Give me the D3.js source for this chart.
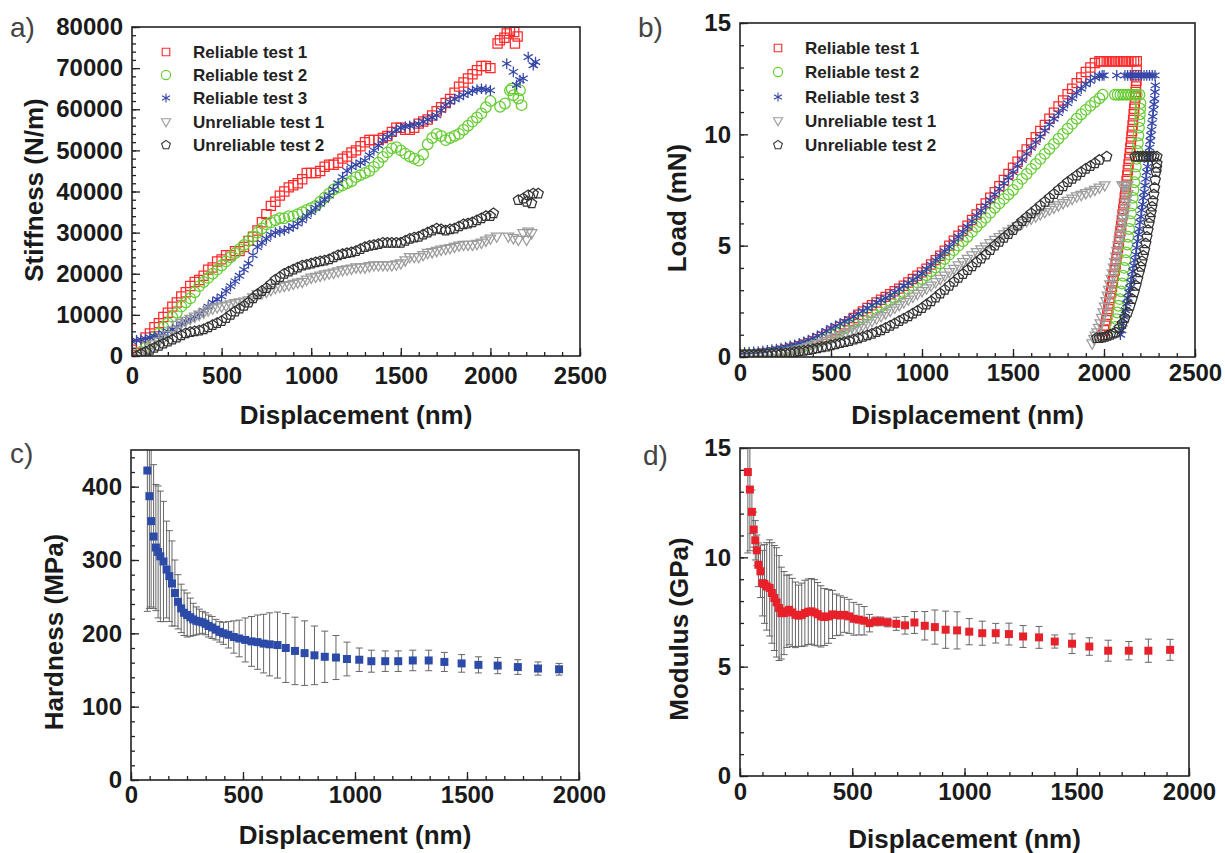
<!DOCTYPE html>
<html>
<head>
<meta charset="utf-8">
<title>Nanoindentation</title>
<script src="https://cdn.jsdelivr.net/npm/d3@7"></script>
<style>
  body { margin: 0; background: #fff; }
  svg text { font-family: Arial, "Liberation Sans", sans-serif; }
</style>
</head>
<body>
<div id="container"></div>
<script>
// grille de déplacement (nm) des bandes de mesure, pas de 25 nm
const dispGrid = [0,25,50,75,100,125,150,175,200,225,
  250,275,300,325,350,375,400,425,450,475,
  500,525,550,575,600,625,650,675,700,725,
  750,775,800,825,850,875,900,925,950,975,
  1000,1025,1050,1075,1100,1125,1150,1175,1200,1225,
  1250,1275,1300,1325,1350,1375,1400,1425,1450,1475,
  1500,1525,1550,1575,1600,1625,1650,1675,1700,1725,
  1750,1775,1800,1825,1850,1875,1900,1925,1950,1975,2000];

// ---- a) raideur (N/m) sur dispGrid
const stiffRel1 = [1500,2500,3000,4500,5500,7000,8000,9500,10500,12000,
  13000,14500,15500,17000,18000,18500,19500,21000,21500,23000,
  23500,24500,24500,25500,25500,26500,28000,29000,30500,32500,
  34500,36500,37500,39000,40000,41000,41500,42000,43000,44500,
  44500,44500,45000,46000,46500,46500,47000,48000,48500,49500,
  50000,51000,52000,52500,52500,52500,53000,53500,54500,55500,
  55500,55000,55000,55500,56500,57000,57500,58500,59500,60500,
  61500,62500,64000,65500,66500,67500,68500,69500,70500,70500,70000];
const stiffRel2 = [null,null,1000,2000,3000,4000,5500,7000,8000,9500,
  10500,12000,13000,14000,15500,17000,18000,19000,20000,21000,
  22000,23000,24000,25000,26000,27000,28000,29000,30000,31000,
  32000,32500,33000,33500,33500,34000,34000,34500,35000,35500,
  36000,36500,37500,38500,39500,40500,41000,41500,42000,42500,
  43500,44000,44500,45000,46000,47000,48400,49500,50500,50800,
  50000,49200,48500,48000,47500,49000,51500,53000,54000,53500,
  52500,53000,53500,54000,55000,56000,57000,58000,59000,60500,62000];
const stiffRel3 = [3500,3800,4000,4200,4500,4800,5000,5500,6000,6500,
  7000,7800,8500,9000,9500,10200,11000,12000,13000,13800,
  14500,15800,17000,18200,19500,21000,22500,24500,26500,27500,
  28500,29500,30000,30300,30500,31000,31500,32200,33000,34000,
  35000,36000,37000,38000,39000,40500,42000,43500,45000,46000,
  46500,47000,47500,48800,50000,51200,52500,53300,54000,55000,
  55500,55800,56000,56200,56500,57000,57500,58000,58500,59800,
  61000,61800,62500,63000,63500,64000,64500,64800,65000,64800,64600];
const stiffUnrel1 = [null,0,500,1200,2000,2800,3500,4200,5000,6200,
  7500,8000,8500,9000,9500,10000,10500,11000,11500,11800,
  12000,12200,12500,12800,13000,13200,13500,14200,15000,15200,
  15500,16000,16500,16800,17000,17200,17500,17800,18000,18500,
  19000,19200,19500,19800,20000,20200,20500,20800,21000,21200,
  21500,21500,21500,21800,22000,22000,22000,22000,22000,22200,
  22500,23200,24000,24000,24000,24500,25000,25200,25500,25800,
  26000,26200,26500,26800,27000,27000,27000,27200,27500,28000,28500];
const stiffUnrel2 = [null,0,500,1000,1500,2000,2500,3000,3500,4000,
  4500,5000,5500,5800,6000,6200,6500,7000,7500,8000,
  8500,9200,10000,10800,11500,12200,13000,14000,15000,15800,
  16500,17500,18500,19200,20000,20500,21000,21500,22000,22200,
  22500,22800,23000,23200,23500,24000,24500,24800,25000,25200,
  25500,26000,26500,26800,27000,27200,27500,27500,27500,27500,
  27500,28000,28500,28800,29000,29500,30000,30500,31000,30800,
  30500,30800,31000,31500,32000,32200,32500,33000,33500,34000,34000];
// points isolés au-delà de 2000 nm, [nm, N/m]
const stiffTail1 = [[2040,76000],[2053,76800],[2078,77400],[2091,78400],[2109,79100],[2133,78800],[2152,77700],[2137,76000]];
const stiffTail2 = [[2054,60600],[2081,61400],[2109,64600],[2128,63400],[2156,62600],[2174,61000],[2165,64600],[2118,65000]];
const stiffTail3 = [[2091,71100],[2128,69100],[2165,67100],[2146,65900],[2183,67500],[2211,72700],[2239,70700],[2252,71500]];
const stiffTail4 = [[2035,29000],[2100,29000],[2128,28600],[2156,28200],[2183,29800],[2211,30200],[2230,29800],[2202,28200]];
const stiffTail5 = [[2017,34700],[2156,37900],[2183,38300],[2211,39100],[2239,39500],[2267,39500],[2230,37100],[2202,37500]];

// ---- b) charge (mN), chargement sur dispGrid (0..1975)
const loadRel1 = [0.10,0.10,0.11,0.12,0.14,0.16,0.18,0.21,0.24,0.28,
  0.32,0.37,0.42,0.48,0.55,0.62,0.70,0.80,0.90,1.0,
  1.1,1.22,1.35,1.47,1.6,1.75,1.9,2.05,2.2,2.32,
  2.45,2.57,2.7,2.82,2.95,3.07,3.2,3.35,3.5,3.65,
  3.8,3.97,4.15,4.35,4.55,4.77,5.0,5.22,5.45,5.67,
  5.9,6.15,6.4,6.65,6.9,7.15,7.4,7.67,7.95,8.22,
  8.5,8.77,9.05,9.32,9.6,9.87,10.15,10.42,10.7,10.97,
  11.25,11.52,11.8,12.05,12.3,12.55,12.8,13.0,13.2,13.28];
const loadRel2 = [0.08,0.09,0.1,0.11,0.12,0.14,0.16,0.18,0.21,0.24,
  0.28,0.32,0.37,0.42,0.48,0.55,0.62,0.7,0.78,0.87,
  0.97,1.07,1.18,1.29,1.4,1.52,1.65,1.77,1.9,2.02,
  2.15,2.27,2.4,2.52,2.65,2.77,2.9,3.05,3.2,3.35,
  3.5,3.67,3.85,4.02,4.2,4.4,4.6,4.8,5.0,5.2,
  5.4,5.62,5.85,6.05,6.25,6.47,6.7,6.9,7.1,7.3,
  7.5,7.75,8.0,8.22,8.45,8.67,8.9,9.12,9.35,9.57,
  9.8,10.02,10.25,10.47,10.7,10.9,11.1,11.28,11.45,11.62];
const loadRel3 = [0.2,0.21,0.22,0.23,0.25,0.27,0.3,0.33,0.36,0.4,
  0.45,0.5,0.55,0.61,0.68,0.76,0.85,0.95,1.05,1.17,
  1.3,1.4,1.5,1.6,1.7,1.82,1.95,2.07,2.2,2.32,
  2.45,2.55,2.65,2.77,2.9,3.05,3.2,3.32,3.45,3.6,
  3.75,3.95,4.15,4.35,4.55,4.75,4.95,5.17,5.4,5.62,
  5.85,6.1,6.35,6.57,6.8,7.05,7.3,7.55,7.8,8.05,
  8.3,8.57,8.85,9.12,9.4,9.65,9.9,10.17,10.45,10.7,
  10.95,11.17,11.4,11.62,11.85,12.05,12.25,12.4,12.55,12.62];
const loadUnrel1 = [0.05,0.05,0.06,0.07,0.08,0.09,0.1,0.12,0.14,0.17,
  0.2,0.24,0.28,0.33,0.38,0.44,0.5,0.57,0.64,0.72,
  0.8,0.87,0.95,1.02,1.1,1.2,1.3,1.4,1.5,1.61,
  1.72,1.83,1.95,2.07,2.2,2.32,2.45,2.57,2.7,2.82,
  2.95,3.07,3.2,3.35,3.5,3.65,3.8,3.95,4.1,4.25,
  4.4,4.55,4.7,4.82,4.95,5.1,5.25,5.37,5.5,5.62,
  5.75,5.87,6.0,6.1,6.2,6.3,6.4,6.5,6.6,6.7,
  6.8,6.9,7.0,7.1,7.2,7.27,7.35,7.42,7.5,7.6];
const loadUnrel2 = [0.1,0.1,0.1,0.1,0.11,0.11,0.12,0.13,0.14,0.15,
  0.17,0.19,0.22,0.25,0.28,0.31,0.35,0.39,0.43,0.47,
  0.52,0.57,0.62,0.67,0.72,0.78,0.84,0.9,0.97,1.04,
  1.12,1.2,1.3,1.4,1.5,1.61,1.72,1.83,1.95,2.07,
  2.2,2.35,2.5,2.67,2.85,3.02,3.2,3.37,3.55,3.72,
  3.9,4.07,4.25,4.42,4.6,4.8,5.0,5.17,5.35,5.52,
  5.7,5.9,6.1,6.27,6.45,6.62,6.8,6.97,7.15,7.32,
  7.5,7.67,7.85,8.0,8.15,8.3,8.45,8.57,8.7,8.85];
// maintien puis décharge, [nm, mN]
const unload1 = [[1985,13.28],[2000,13.28],[2015,13.28],[2030,13.28],[2045,13.28],[2060,13.28],[2075,13.28],[2090,13.28],[2105,13.28],[2120,13.28],[2135,13.28],[2150,13.28],[2165,13.28],[2180,13.28],
  [2180,12.9],[2179,12.65],[2178,12.4],[2176,12.15],[2174,11.9],[2172,11.65],[2169,11.4],[2166,11.15],[2163,10.9],[2160,10.65],[2157,10.4],[2154,10.15],[2151,9.9],[2148,9.65],[2145,9.4],[2142,9.15],[2138,8.9],[2135,8.65],[2131,8.4],[2128,8.15],[2124,7.9],[2121,7.65],[2117,7.4],[2114,7.15],[2110,6.9],[2106,6.65],[2102,6.4],[2098,6.15],[2094,5.9],[2090,5.65],[2086,5.4],[2082,5.15],[2077,4.9],[2073,4.65],[2068,4.4],[2064,4.15],[2059,3.9],[2054,3.65],[2049,3.4],[2044,3.15],[2039,2.9],[2034,2.65],[2029,2.4],[2024,2.15],[2018,1.9],[2012,1.65],[2006,1.4],[2000,1.2],[1994,1.0]];
const unload2 = [[1993,11.78],[2060,11.78],[2075,11.78],[2090,11.78],[2105,11.78],[2120,11.78],[2135,11.78],[2150,11.78],[2165,11.78],[2180,11.78],[2195,11.78],
  [2200,11.4],[2199,11.15],[2197,10.9],[2195,10.6],[2192,10.3],[2189,9.95],[2186,9.6],[2183,9.25],[2179,8.9],[2175,8.55],[2171,8.2],[2167,7.85],[2162,7.5],[2158,7.15],[2153,6.8],[2148,6.45],[2143,6.1],[2138,5.75],[2133,5.4],[2128,5.05],[2122,4.7],[2117,4.35],[2111,4.0],[2105,3.65],[2099,3.3],[2093,2.95],[2086,2.6],[2080,2.3],[2073,2.0],[2067,1.7],[2060,1.35]];
const unload3 = [[1990,12.65],[2000,12.65],[2070,12.65],[2115,12.65],[2130,12.65],[2145,12.65],[2160,12.65],[2175,12.65],[2190,12.65],[2205,12.65],[2220,12.65],[2235,12.65],[2250,12.65],[2265,12.65],[2280,12.65],
  [2282,12.2],[2280,11.9],[2278,11.6],[2275,11.35],[2271,11.1],[2268,10.8],[2264,10.5],[2261,10.2],[2257,9.95],[2254,9.7],[2250,9.4],[2247,9.1],[2243,8.85],[2239,8.55],[2234,8.3],[2230,8.0],[2225,7.7],[2221,7.4],[2216,7.15],[2212,6.85],[2207,6.6],[2203,6.3],[2198,6.05],[2194,5.75],[2189,5.5],[2184,5.2],[2179,4.9],[2175,4.6],[2170,4.35],[2164,4.1],[2158,3.85],[2153,3.6],[2147,3.35],[2142,3.1],[2136,2.9],[2131,2.65],[2125,2.4],[2118,2.1],[2111,1.8],[2104,1.5],[2097,1.2],[2090,1.0]];
const unload4 = [[2004,7.7],[2100,7.7],[2110,7.7],[2120,7.7],[2130,7.7],
  [2130,7.3],[2125,7.1],[2120,6.9],[2115,6.65],[2110,6.4],[2105,6.2],[2100,6.0],[2095,5.75],[2090,5.5],[2084,5.25],[2078,5.0],[2072,4.75],[2066,4.5],[2060,4.25],[2054,4.0],[2047,3.75],[2040,3.5],[2033,3.25],[2026,3.0],[2019,2.75],[2012,2.5],[2004,2.25],[1996,2.0],[1988,1.75],[1980,1.5],[1971,1.3],[1962,1.1],[1953,0.95],[1945,0.8],[1935,0.6]];
const unload5 = [[2015,9.0],[2170,9.0],[2185,9.0],[2200,9.0],[2215,9.0],[2230,9.0],[2245,9.0],[2260,9.0],[2275,9.0],[2291,9.0],
  [2291,8.7],[2289,8.5],[2286,8.3],[2282,7.95],[2278,7.6],[2274,7.3],[2269,7.0],[2264,6.75],[2259,6.5],[2254,6.25],[2248,6.0],[2242,5.7],[2236,5.4],[2230,5.1],[2223,4.8],[2216,4.55],[2209,4.3],[2202,4.05],[2194,3.8],[2185,3.5],[2176,3.2],[2166,2.9],[2155,2.6],[2143,2.3],[2130,2.0],[2115,1.75],[2100,1.5],[2083,1.3],[2065,1.1],[2050,1.05],[2035,1.0],[2020,0.95],[2005,0.9],[1990,0.87],[1975,0.85],[1960,0.85]];

// ---- c) dureté (MPa) avec barres d'erreur
const hardDisp = [73,82,90,101,111,121,131,145,159,171,183,196,210,224,237,251,265,278,292,305,319,333,346,362,379,396,413,435,459,483,510,538,565,592,619,654,691,732,775,819,865,915,964,1019,1073,1135,1193,1258,1329,1399,1476,1551,1637,1727,1817,1911];
const hardVal  = [422,387,353,332,317,311,305,298,287,278,268,255,243,234,228,225,222,219,217,216,215,213,210,208,205,202,200,198,195,193,191,189,188,186,185,184,180,176,173,170,168,167,165,164,162,162,162,163,163,161,159,157,156,154,152,151];
const hardErr  = [192,153,117,98,86,90,89,82,66,62,58,45,37,33,31,30,26,22,19,17,15,15,15,15,14,14,15,18,22,25,30,34,37,40,43,45,47,46,44,40,35,30,23,16,15,14,14,14,14,13,12,11,11,10,9,8];

// ---- d) module (GPa) avec barres d'erreur
const modDisp = [35,44,53,61,68,75,82,91,100,109,119,132,142,153,163,174,184,196,209,219,233,247,261,275,289,304,318,332,346,360,377,395,412,430,447,465,486,507,530,553,577,602,626,658,696,735,777,823,868,916,967,1021,1079,1139,1198,1261,1332,1402,1479,1556,1640,1732,1819,1916];
const modVal  = [13.9,13.1,12.08,11.27,10.78,10.32,9.66,9.36,8.82,8.78,8.67,8.6,8.37,8.14,7.94,7.68,7.45,7.45,7.53,7.6,7.48,7.37,7.33,7.37,7.45,7.51,7.53,7.48,7.4,7.3,7.27,7.3,7.39,7.37,7.34,7.37,7.3,7.19,7.15,7.1,6.99,7.07,7.07,7.02,6.96,6.89,7.02,6.87,6.81,6.69,6.66,6.6,6.53,6.53,6.49,6.38,6.34,6.15,6.05,5.92,5.73,5.73,5.73,5.77];
const modErr  = [3.7,2.8,1.0,0.8,0.9,0.7,1.0,1.2,1.5,1.8,2.0,2.2,2.3,2.4,2.5,2.4,2.1,1.9,1.65,1.6,1.56,1.5,1.4,1.45,1.5,1.5,1.5,1.5,1.45,1.4,1.3,1.23,1.1,0.95,0.9,0.8,0.78,0.75,0.7,0.65,0.4,0.2,0.2,0.2,0.3,0.4,0.5,0.65,0.78,0.85,0.85,0.6,0.55,0.45,0.5,0.5,0.5,0.3,0.45,0.4,0.48,0.42,0.53,0.48];

const seriesNames = ["Reliable test 1", "Reliable test 2", "Reliable test 3", "Unreliable test 1", "Unreliable test 2"];
const seriesShapes = ["square", "circle", "star", "triangle", "pentagon"];
const seriesColors = ["#ff2b2b", "#66cc33", "#3446a8", "#9c9c9c", "#333333"];

// associe la grille et les valeurs, puis ajoute les points libres
function onGrid(vals, extra) {
  const pts = [];
  vals.forEach((v, i) => { if (v !== null) pts.push([dispGrid[i], v]); });
  return pts.concat(extra);
}

const svg = d3.select("#container").append("svg")
  .attr("width", 1225).attr("height", 853);

// chemin d'un symbole centré en 0,0
function shapePath(type, r) {
  if (type === "square") return `M${-r},${-r}h${2*r}v${2*r}h${-2*r}Z`;
  if (type === "circle") return `M${-r},0a${r},${r} 0 1,0 ${2*r},0a${r},${r} 0 1,0 ${-2*r},0Z`;
  if (type === "star") {
    let d = "";
    [90, 30, -30].forEach(a => {
      const c = Math.cos(a * Math.PI / 180) * r, s = Math.sin(a * Math.PI / 180) * r;
      d += `M${-c},${-s}L${c},${s}`;
    });
    return d;
  }
  if (type === "triangle") return `M${-r},${-r*0.7}L${r},${-r*0.7}L0,${r*1.05}Z`;
  if (type === "pentagon") {
    const pts = d3.range(5).map(k => {
      const a = (-90 + 72 * k) * Math.PI / 180;
      return [Math.cos(a) * r, Math.sin(a) * r];
    });
    return "M" + pts.map(p => p.join(",")).join("L") + "Z";
  }
}

function panel(cfg) {
  const x = d3.scaleLinear().domain(cfg.xDom).range([cfg.l, cfg.r]);
  const y = d3.scaleLinear().domain(cfg.yDom).range([cfg.b, cfg.t]);

  const styleAxis = g => {
    g.select(".domain").remove();
    g.selectAll("line").attr("stroke", "#222").attr("stroke-width", 1.3);
    g.selectAll("text").attr("font-size", 24).attr("font-weight", "bold")
      .attr("fill", "#1a1a1a").attr("font-family", "Arial, 'Liberation Sans', sans-serif");
  };

  // graduations secondaires puis principales, vers l'intérieur
  svg.append("g").attr("transform", `translate(0,${cfg.b})`)
    .call(d3.axisBottom(x).tickValues(cfg.xMinor).tickSize(-4).tickFormat(""))
    .call(styleAxis);
  svg.append("g").attr("transform", `translate(0,${cfg.b})`)
    .call(d3.axisBottom(x).tickValues(cfg.xMajor).tickSize(-8).tickPadding(cfg.xPad).tickFormat(d3.format("d")))
    .call(styleAxis);
  svg.append("g").attr("transform", `translate(${cfg.l},0)`)
    .call(d3.axisLeft(y).tickValues(cfg.yMinor).tickSize(-4).tickFormat(""))
    .call(styleAxis);
  svg.append("g").attr("transform", `translate(${cfg.l},0)`)
    .call(d3.axisLeft(y).tickValues(cfg.yMajor).tickSize(-8).tickPadding(9).tickFormat(d3.format("d")))
    .call(styleAxis);

  svg.append("clipPath").attr("id", cfg.id + "clip")
    .append("rect")
    .attr("x", cfg.l).attr("y", cfg.t)
    .attr("width", cfg.r - cfg.l).attr("height", cfg.b - cfg.t);

  // titres
  svg.append("text")
    .attr("x", (cfg.l + cfg.r) / 2).attr("y", cfg.xTitleY)
    .attr("text-anchor", "middle").attr("font-size", 26).attr("font-weight", "bold").attr("fill", "#1a1a1a")
    .text("Displacement (nm)");
  svg.append("text")
    .attr("transform", `translate(${cfg.yTitleX},${cfg.yTitleMid}) rotate(-90)`)
    .attr("text-anchor", "middle").attr("font-size", 26).attr("font-weight", "bold").attr("fill", "#1a1a1a")
    .text(cfg.yTitle);
  svg.append("text")
    .attr("x", cfg.tagX).attr("y", cfg.tagY)
    .attr("font-size", 28).attr("fill", "#444")
    .text(cfg.tag);

  const plot = svg.append("g").attr("clip-path", `url(#${cfg.id}clip)`);

  // cadre par-dessus les données
  const frame = () => svg.append("rect")
    .attr("x", cfg.l).attr("y", cfg.t)
    .attr("width", cfg.r - cfg.l).attr("height", cfg.b - cfg.t)
    .attr("fill", "none").attr("stroke", "#222").attr("stroke-width", 1.6);
  return { x, y, plot, frame };
}

function drawSeries(p, sets, legendX, legendY) {
  sets.forEach((pts, i) => {
    p.plot.append("g").selectAll("path")
      .data(pts)
      .join("path")
      .attr("transform", d => `translate(${p.x(d[0])},${p.y(d[1])})`)
      .attr("d", shapePath(seriesShapes[i], seriesShapes[i] === "square" ? 4.6 : 5.3))
      .attr("fill", "none")
      .attr("stroke", seriesColors[i])
      .attr("stroke-width", 1.25);
  });
  p.frame();
  // légende
  const lg = svg.append("g");
  seriesNames.forEach((name, i) => {
    const yy = legendY[i];
    lg.append("path")
      .attr("transform", `translate(${legendX},${yy})`)
      .attr("d", shapePath(seriesShapes[i], seriesShapes[i] === "square" ? 3.8 : 4.6))
      .attr("fill", "none").attr("stroke", seriesColors[i]).attr("stroke-width", 1.1);
    lg.append("text")
      .attr("x", legendX + 27).attr("y", yy + 6)
      .attr("font-size", 17).attr("font-weight", "bold").attr("fill", "#222")
      .text(name);
  });
}

function drawErrorSeries(p, xs, vals, errs, color) {
  const g = p.plot.append("g");
  xs.forEach((xv, i) => {
    const cx = p.x(xv), y1 = p.y(vals[i] + errs[i]), y2 = p.y(vals[i] - errs[i]);
    g.append("line").attr("x1", cx).attr("x2", cx).attr("y1", y1).attr("y2", y2)
      .attr("stroke", "#666").attr("stroke-width", 1);
    [y1, y2].forEach(yy => g.append("line")
      .attr("x1", cx - 3.5).attr("x2", cx + 3.5).attr("y1", yy).attr("y2", yy)
      .attr("stroke", "#666").attr("stroke-width", 1));
  });
  g.selectAll("rect.pt")
    .data(xs)
    .join("rect")
    .attr("class", "pt")
    .attr("x", (d, i) => p.x(d) - 4).attr("y", (d, i) => p.y(vals[i]) - 4)
    .attr("width", 8).attr("height", 8)
    .attr("fill", color);
  p.frame();
}

// a)
const pa = panel({
  id: "a", l: 132, r: 580, t: 27, b: 356,
  xDom: [0, 2500], yDom: [0, 80000],
  xMajor: d3.range(0, 2501, 500), xMinor: d3.range(0, 2501, 100),
  yMajor: d3.range(0, 80001, 10000), yMinor: d3.range(0, 80001, 2000),
  xPad: 11, xTitleY: 424, yTitleX: 43, yTitleMid: 190, yTitle: "Stiffness (N/m)",
  tag: "a)", tagX: 10, tagY: 37
});
drawSeries(pa, [
  onGrid(stiffRel1, stiffTail1),
  onGrid(stiffRel2, stiffTail2),
  onGrid(stiffRel3, stiffTail3),
  onGrid(stiffUnrel1, stiffTail4),
  onGrid(stiffUnrel2, stiffTail5)
], 166, [52, 75, 98, 122, 145]);

// b)
const pb = panel({
  id: "b", l: 740, r: 1195, t: 23, b: 357,
  xDom: [0, 2500], yDom: [0, 15],
  xMajor: d3.range(0, 2501, 500), xMinor: d3.range(0, 2501, 100),
  yMajor: [0, 5, 10, 15], yMinor: d3.range(0, 16, 1),
  xPad: 7, xTitleY: 424, yTitleX: 686, yTitleMid: 208, yTitle: "Load (mN)",
  tag: "b)", tagX: 638, tagY: 37
});
drawSeries(pb, [
  onGrid(loadRel1, unload1),
  onGrid(loadRel2, unload2),
  onGrid(loadRel3, unload3),
  onGrid(loadUnrel1, unload4),
  onGrid(loadUnrel2, unload5)
], 778, [48, 72, 97, 121, 145]);

// c)
const pc = panel({
  id: "c", l: 131, r: 579, t: 450, b: 780,
  xDom: [0, 2000], yDom: [0, 450],
  xMajor: d3.range(0, 2001, 500), xMinor: d3.range(0, 2001, 500 / 6),
  yMajor: d3.range(0, 401, 100), yMinor: d3.range(0, 451, 20),
  xPad: 6, xTitleY: 844, yTitleX: 63, yTitleMid: 632, yTitle: "Hardness (MPa)",
  tag: "c)", tagX: 10, tagY: 463
});
drawErrorSeries(pc, hardDisp, hardVal, hardErr, "#2c4ba8");

// d)
const pd = panel({
  id: "d", l: 740, r: 1189, t: 448, b: 776,
  xDom: [0, 2000], yDom: [0, 15],
  xMajor: d3.range(0, 2001, 500), xMinor: d3.range(0, 2001, 100),
  yMajor: [0, 5, 10, 15], yMinor: d3.range(0, 16, 1),
  xPad: 7, xTitleY: 848, yTitleX: 688, yTitleMid: 629, yTitle: "Modulus (GPa)",
  tag: "d)", tagX: 643, tagY: 465
});
drawErrorSeries(pd, modDisp, modVal, modErr, "#e8202a");
</script>
</body>
</html>
